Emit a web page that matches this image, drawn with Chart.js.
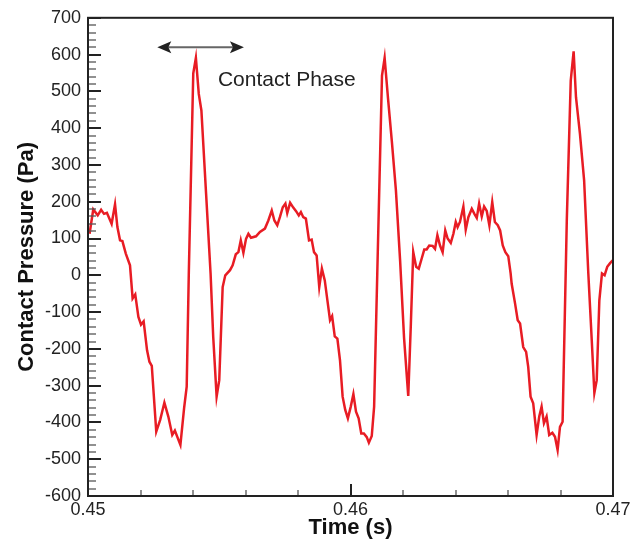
<!DOCTYPE html>
<html lang="en">
<head>
  <meta charset="UTF-8">
  <title>Contact Pressure vs Time</title>
  <script src="https://cdn.jsdelivr.net/npm/chart.js"></script>
  <style>
    body { margin: 0; background: #fff; }
    canvas { display: block; }
  </style>
</head>
<body>
  <canvas id="chart" width="639" height="541"></canvas>
  <script>
    // time (s) and contact pressure (Pa)
    const timeS = [
      0.45006, 0.45020, 0.45037, 0.45050, 0.45061, 0.45072, 0.45090, 0.45103, 0.45112, 0.45122,
      0.45131, 0.45144, 0.45160, 0.45170, 0.45180, 0.45192, 0.45202, 0.45212, 0.45225, 0.45234,
      0.45243, 0.45260, 0.45275, 0.45291, 0.45306, 0.45321, 0.45331, 0.45352, 0.45366, 0.45376,
      0.45384, 0.45401, 0.45411, 0.45422, 0.45432, 0.45450, 0.45467, 0.45477, 0.45490, 0.45500,
      0.45513, 0.45523, 0.45541, 0.45551, 0.45563, 0.45573, 0.45582, 0.45592, 0.45602, 0.45611,
      0.45621, 0.45640, 0.45655, 0.45674, 0.45687, 0.45700, 0.45710, 0.45721, 0.45731, 0.45742,
      0.45752, 0.45759, 0.45770, 0.45782, 0.45792, 0.45803, 0.45811, 0.45820, 0.45830, 0.45842,
      0.45852, 0.45861, 0.45871, 0.45881, 0.45891, 0.45902, 0.45912, 0.45922, 0.45930, 0.45940,
      0.45950, 0.45960, 0.45970, 0.45980, 0.45990, 0.46001, 0.46011, 0.46021, 0.46031, 0.46041,
      0.46051, 0.46062, 0.46070, 0.46081, 0.46090, 0.46102, 0.46120, 0.46130, 0.46143, 0.46158,
      0.46173, 0.46189, 0.46204, 0.46220, 0.46230, 0.46239, 0.46250, 0.46260, 0.46271, 0.46281,
      0.46290, 0.46300, 0.46313, 0.46322, 0.46331, 0.46341, 0.46351, 0.46361, 0.46370, 0.46382,
      0.46392, 0.46401, 0.46408, 0.46417, 0.46430, 0.46439, 0.46449, 0.46462, 0.46472, 0.46481,
      0.46490, 0.46500, 0.46509, 0.46519, 0.46529, 0.46540, 0.46550, 0.46561, 0.46570, 0.46580,
      0.46590, 0.46601, 0.46610, 0.46614, 0.46627, 0.46637, 0.46646, 0.46658, 0.46669, 0.46677,
      0.46686, 0.46696, 0.46709, 0.46719, 0.46728, 0.46737, 0.46747, 0.46757, 0.46769, 0.46779,
      0.46789, 0.46798, 0.46808, 0.46824, 0.46839, 0.46850, 0.46859, 0.46874, 0.46890, 0.46906,
      0.46919, 0.46929, 0.46938, 0.46948, 0.46958, 0.46968, 0.46978, 0.46989, 0.46999
    ];
    const pressurePa = [
      113, 179, 163, 178, 167, 170, 140, 193, 131, 95,
      93, 59, 27, -63, -52, -113, -134, -125, -204, -235,
      -246, -425, -393, -346, -384, -434, -422, -461, -362, -303,
      5, 549, 591, 493, 448, 220, 5, -167, -330, -285,
      -32, 0, 14, 27, 57, 63, 95, 61, 99, 113,
      102, 106, 118, 127, 149, 176, 149, 136, 158, 185,
      195, 169, 197, 184, 175, 163, 172, 158, 154, 95,
      97, 63, 54, -32, 18, -14, -68, -122, -111, -166,
      -172, -231, -330, -366, -389, -357, -323, -371, -389, -430,
      -430, -440, -455, -437, -357, 5, 543, 591, 480, 360,
      231, 40, -170, -328, -131, 63, 23, 18, 45, 70,
      70, 81, 80, 72, 109, 81, 63, 122, 100, 88,
      113, 145, 131, 145, 187, 124, 158, 181, 167, 156,
      195, 160, 187, 175, 136, 199, 145, 136, 122, 81,
      63, 52, 5, -23, -77, -122, -131, -195, -208, -249,
      -330, -348, -434, -384, -357, -402, -384, -434, -428, -439,
      -475, -412, -398, 150, 529, 609, 484, 385, 258, 5,
      -176, -320, -285, -68, 5, 0, 23, 33, 41
    ];

    const xTickValues = [0.45, 0.46, 0.47];
    const yTickValues = [-600, -500, -400, -300, -200, -100, 0, 100, 200, 300, 400, 500, 600, 700];

    // "Contact Phase" annotation: arrow span (s) at a pressure level, label anchor
    const arrowTimes = [0.45264, 0.45594];
    const arrowPressure = 620;
    const noteText = 'Contact Phase';
    const notePos = [0.45495, 529];

    const FONT = "'Liberation Sans', Arial, sans-serif";

    const points = timeS.map((t, i) => ({ x: t, y: pressurePa[i] }));

    // box frame plus inward major/minor tick marks
    const frameTicks = {
      id: 'frameTicks',
      afterDatasetsDraw(chart) {
        const { ctx, chartArea: a, scales: { x, y } } = chart;
        ctx.save();
        // y ticks every 20, major every 100
        for (let v = y.min; v <= y.max; v += 20) {
          const major = v % 100 === 0;
          const py = Math.round(y.getPixelForValue(v));
          ctx.strokeStyle = major ? '#222' : '#555';
          ctx.lineWidth = major ? 2 : 1.3;
          ctx.beginPath();
          ctx.moveTo(a.left, py);
          ctx.lineTo(a.left + (major ? 13 : 8), py);
          ctx.stroke();
        }
        // x ticks every 0.002, major every 0.01
        for (let i = 0; i <= 10; i++) {
          const major = i % 5 === 0;
          const px = Math.round(x.getPixelForValue(x.min + i * 0.002));
          ctx.strokeStyle = major ? '#222' : '#555';
          ctx.lineWidth = major ? 2 : 1.3;
          ctx.beginPath();
          ctx.moveTo(px, a.bottom);
          ctx.lineTo(px, a.bottom - (major ? 12 : 6));
          ctx.stroke();
        }
        ctx.strokeStyle = '#222';
        ctx.lineWidth = 2;
        ctx.strokeRect(a.left, a.top, a.right - a.left, a.bottom - a.top);

        // annotation
        const x1 = x.getPixelForValue(arrowTimes[0]);
        const x2 = x.getPixelForValue(arrowTimes[1]);
        const ay = y.getPixelForValue(arrowPressure);
        ctx.strokeStyle = '#666';
        ctx.lineWidth = 2;
        ctx.beginPath();
        ctx.moveTo(x1 + 10, ay);
        ctx.lineTo(x2 - 10, ay);
        ctx.stroke();
        ctx.fillStyle = '#222';
        ctx.beginPath();
        ctx.moveTo(x1, ay);
        ctx.lineTo(x1 + 14, ay - 6);
        ctx.lineTo(x1 + 11, ay);
        ctx.lineTo(x1 + 14, ay + 6);
        ctx.closePath();
        ctx.fill();
        ctx.beginPath();
        ctx.moveTo(x2, ay);
        ctx.lineTo(x2 - 14, ay - 6);
        ctx.lineTo(x2 - 11, ay);
        ctx.lineTo(x2 - 14, ay + 6);
        ctx.closePath();
        ctx.fill();

        ctx.font = '21px ' + FONT;
        ctx.textAlign = 'left';
        ctx.textBaseline = 'middle';
        ctx.fillText(noteText, x.getPixelForValue(notePos[0]), y.getPixelForValue(notePos[1]));
        ctx.restore();
      }
    };

    new Chart(document.getElementById('chart'), {
      type: 'line',
      data: {
        datasets: [{
          data: points,
          borderColor: '#e81c24',
          borderWidth: 2.5,
          pointRadius: 0,
          tension: 0,
          fill: false
        }]
      },
      options: {
        responsive: false,
        animation: false,
        layout: { padding: { top: 17, right: 26, left: 0, bottom: 0 } },
        plugins: {
          legend: { display: false },
          tooltip: { enabled: false }
        },
        scales: {
          x: {
            type: 'linear',
            min: 0.45,
            max: 0.47,
            afterBuildTicks: s => { s.ticks = xTickValues.map(v => ({ value: v })); },
            afterFit: s => { s.height = 45; },
            grid: { display: false, drawTicks: false },
            border: { display: false },
            ticks: {
              padding: 3,
              color: '#222',
              font: { family: FONT, size: 18 },
              maxRotation: 0,
              callback: v => v.toFixed(2)
            },
            title: {
              display: true,
              text: 'Time (s)',
              color: '#111',
              font: { family: FONT, size: 22, weight: 'bold' },
              padding: { top: 0, bottom: 0 }
            }
          },
          y: {
            min: -600,
            max: 700,
            afterBuildTicks: s => { s.ticks = yTickValues.map(v => ({ value: v })); },
            afterFit: s => { s.width = 88; },
            grid: { display: false, drawTicks: false },
            border: { display: false },
            ticks: {
              padding: 7,
              color: '#222',
              font: { family: FONT, size: 18 }
            },
            title: {
              display: true,
              text: 'Contact Pressure (Pa)',
              color: '#111',
              font: { family: FONT, size: 22, weight: 'bold' },
              padding: { top: 14, bottom: 0 }
            }
          }
        }
      },
      plugins: [frameTicks]
    });
  </script>
</body>
</html>
